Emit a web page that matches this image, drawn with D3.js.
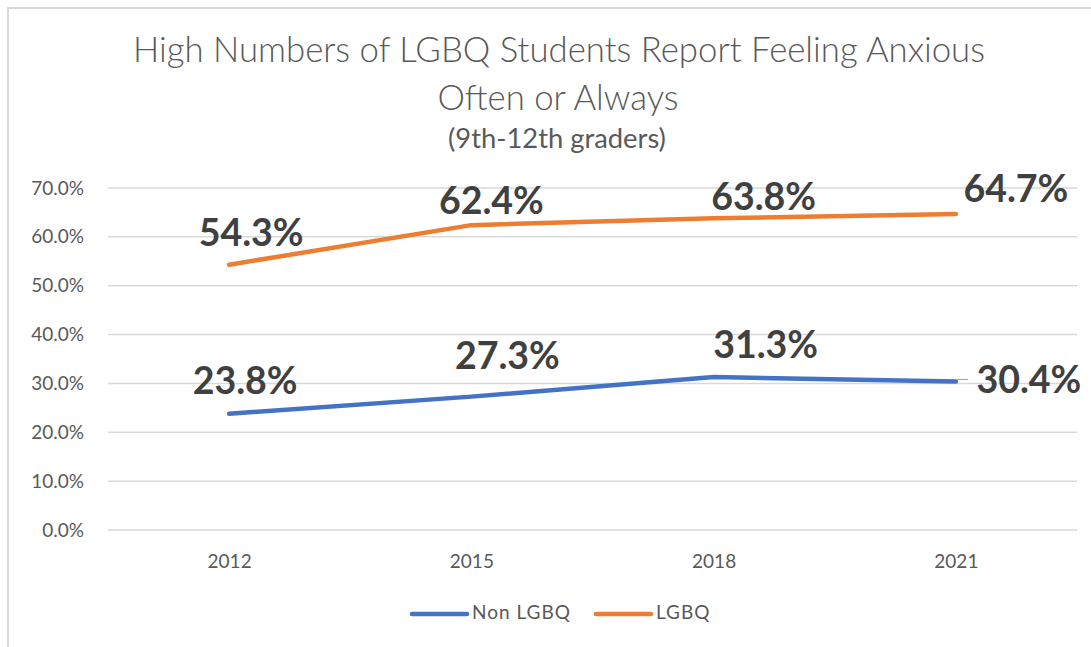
<!DOCTYPE html>
<html>
<head>
<meta charset="utf-8">
<script src="https://cdn.jsdelivr.net/npm/d3@7"></script>
<style>
    html, body { margin: 0; padding: 0; background: #fff; }
    svg { display: block; }
</style>
</head>
<body>
<div id="chart"></div>
<script>
const years = ["2012", "2015", "2018", "2021"];
const nonLgbq = [23.8, 27.3, 31.3, 30.4];
const lgbq = [54.3, 62.4, 63.8, 64.7];
const yTicks = [0, 10, 20, 30, 40, 50, 60, 70];
const seriesNames = ["Non LGBQ", "LGBQ"];
const titleLines = ["High Numbers of LGBQ Students Report Feeling Anxious", "Often or Always"];
const subtitle = "(9th-12th graders)";

const width = 1091;
const height = 647;
const margin = { top: 188, right: 14, bottom: 117, left: 108 };
const colors = { "Non LGBQ": "#4472C4", "LGBQ": "#ED7D31" };
const font = "Lato, 'Open Sans', sans-serif";

// label nudges (px from the point), like the excel layout
const labelShift = {
    "Non LGBQ": [[16, -29], [36, -37], [52, -29], [73, 2]],
    "LGBQ": [[22, -28], [20, -21], [50, -18], [60, -22]],
};

const svg = d3.select("#chart")
    .append("svg")
    .attr("width", width)
    .attr("height", height);

// chart frame
svg.append("path")
    .attr("d", `M8,${height} L8,8 L${width},8`)
    .attr("fill", "none")
    .attr("stroke", "#d9d9d9")
    .attr("stroke-width", 2);

let x = d3.scalePoint()
    .domain(years)
    .range([margin.left, width - margin.right])
    .padding(0.5);

let y = d3.scaleLinear()
    .domain([0, 70])
    .range([height - margin.bottom, margin.top]);

// shrink/grow font so the text covers a given width
function fitWidth(text, target) {
    let size = parseFloat(text.attr("font-size"));
    let w = text.node().getComputedTextLength();
    if (w > 0) text.attr("font-size", size * target / w);
}

// title
let t1 = svg.append("text")
    .attr("x", 559).attr("y", 62)
    .attr("text-anchor", "middle")
    .attr("font-family", font).attr("font-weight", 300)
    .attr("font-size", 31).attr("fill", "#595959")
    .text(titleLines[0]);
fitWidth(t1, 852);

let t2 = svg.append("text")
    .attr("x", 558).attr("y", 110)
    .attr("text-anchor", "middle")
    .attr("font-family", font).attr("font-weight", 300)
    .attr("font-size", t1.attr("font-size")).attr("fill", "#595959")
    .text(titleLines[1]);

let t3 = svg.append("text")
    .attr("x", 557).attr("y", 148)
    .attr("text-anchor", "middle")
    .attr("font-family", font)
    .attr("font-size", 22).attr("fill", "#595959")
    .text(subtitle);
fitWidth(t3, 218);

// gridlines
svg.append("g")
    .selectAll("line")
    .data(yTicks)
    .join("line")
    .attr("x1", margin.left)
    .attr("x2", width - margin.right)
    .attr("y1", d => y(d))
    .attr("y2", d => y(d))
    .attr("stroke", "#d9d9d9")
    .attr("stroke-width", 1.5);

// y axis labels
let yAxis = svg.append("g")
    .attr("transform", `translate(${margin.left - 24},0)`)
    .call(d3.axisLeft(y).tickValues(yTicks).tickSize(0).tickPadding(0).tickFormat(d => d.toFixed(1) + "%"));
yAxis.select(".domain").remove();
yAxis.selectAll("text")
    .attr("font-family", font)
    .attr("font-size", 19)
    .attr("fill", "#595959");

// x axis labels
let xAxis = svg.append("g")
    .attr("transform", `translate(0,${height - margin.bottom})`)
    .call(d3.axisBottom(x).tickSize(0).tickPadding(25));
xAxis.select(".domain").remove();
xAxis.selectAll("text")
    .attr("font-family", font)
    .attr("font-size", 19)
    .attr("fill", "#595959");

const series = [
    { name: seriesNames[0], values: nonLgbq },
    { name: seriesNames[1], values: lgbq },
];

let line = d3.line()
    .x((d, i) => x(years[i]))
    .y(d => y(d));

svg.append("g")
    .selectAll("path")
    .data(series)
    .join("path")
    .attr("d", d => line(d.values))
    .attr("fill", "none")
    .attr("stroke", d => colors[d.name])
    .attr("stroke-width", 4.5)
    .attr("stroke-linecap", "round")
    .attr("stroke-linejoin", "round");

// leader line for the last non-lgbq label
svg.append("line")
    .attr("x1", x(years[3]) + 1).attr("x2", x(years[3]) + 12)
    .attr("y1", y(nonLgbq[3]) - 2).attr("y2", y(nonLgbq[3]) - 2)
    .attr("stroke", "#a6a6a6").attr("stroke-width", 1.2);

// data labels
for (let s of series) {
    s.values.forEach((v, i) => {
        let shift = labelShift[s.name][i];
        let label = svg.append("text")
            .attr("x", x(years[i]) + shift[0])
            .attr("y", y(v) + shift[1])
            .attr("text-anchor", "middle")
            .attr("dominant-baseline", "middle")
            .attr("font-family", font)
            .attr("font-weight", 700)
            .attr("font-size", 34)
            .attr("fill", "#404040")
            .text(v.toFixed(1) + "%");
        fitWidth(label, 105);
    });
}

// legend
let legend = svg.append("g").attr("transform", `translate(0,${height - 33})`);
const legendX = [412, 596];
series.forEach((s, i) => {
    legend.append("line")
        .attr("x1", legendX[i]).attr("x2", legendX[i] + 55)
        .attr("y1", 0).attr("y2", 0)
        .attr("stroke", colors[s.name])
        .attr("stroke-width", 4.5)
        .attr("stroke-linecap", "round");
    legend.append("text")
        .attr("x", legendX[i] + 60)
        .attr("y", 0)
        .attr("dominant-baseline", "middle")
        .attr("font-family", font)
        .attr("font-size", 19)
        .attr("letter-spacing", 1)
        .attr("fill", "#595959")
        .text(s.name);
});
</script>
</body>
</html>
